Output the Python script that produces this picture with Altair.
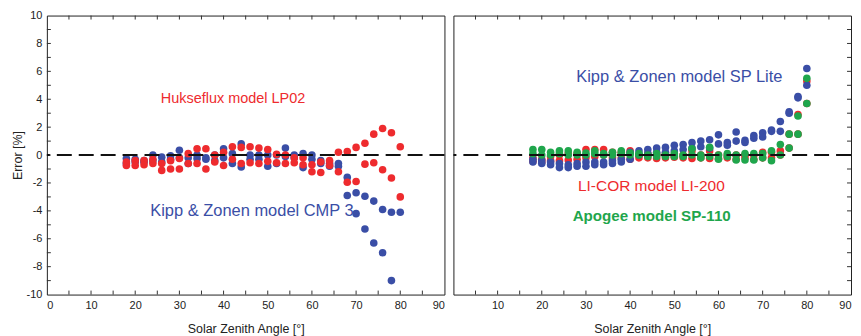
import altair as alt
import pandas as pd

angles = [18, 20, 22, 24, 26, 28, 30, 32, 34, 36, 38, 40, 42, 44, 46, 48,
          50, 52, 54, 56, 58, 60, 62, 64, 66, 68, 70, 72, 74, 76, 78, 80]

# Left panel
cmp3_a = [-0.25, -0.3, -0.4, 0.0, -0.15, -0.05, 0.35, -0.6, -0.25, -0.2, 0.0, 0.45, 0.1, 0.8, 0.0, 0.0,
          -0.8, -0.6, 0.5, 0.0, 0.1, 0.0, -0.4, -0.8, -0.8, -1.6, -2.7, -2.95, -3.3, -3.9, -4.1, -4.1]
cmp3_b = [-0.6, -0.5, -0.5, -0.4, -0.5, -0.3, -0.2, -0.2, 0.0, -0.3, -0.4, -0.2, -0.6, -0.85, -0.3, -0.3,
          0.0, 0.0, -0.1, -0.2, -0.9, -0.3, -0.6, -0.6, -0.6, -2.9, -4.2, -5.3, -6.3, -7.0, -9.0, None]
lp02_a = [-0.75, -0.4, -0.4, -0.6, -0.6, -0.4, -0.25, 0.1, 0.45, 0.45, 0.0, -0.75, 0.6, 0.55, 0.6, 0.5,
          0.4, 0.05, 0.0, -0.2, -0.2, -0.7, -0.5, -0.4, 0.2, 0.25, 0.55, 0.85, 1.5, 1.9, 1.6, 0.6]
lp02_b = [-0.5, -0.75, -0.7, -0.3, -1.1, -1.0, -1.0, -0.6, -0.6, -1.0, -0.5, 0.2, -0.3, -0.6, -0.55, -0.6,
          -0.45, -0.55, -0.6, -0.55, -0.7, -1.2, -1.25, -0.75, -1.2, -1.95, -1.9, -0.65, -0.55, -1.05, -1.65, -3.0]

# Right panel
splite_a = [-0.3, -0.4, -0.5, -0.6, -0.7, -0.6, -0.5, -0.5, -0.5, -0.4, -0.3, 0.2, 0.3, 0.4, 0.5, 0.55,
            0.7, 0.75, 0.9, 1.0, 1.1, 1.45, 0.9, 1.65, 1.05, 1.4, 1.6, 1.8, 2.4, 3.1, 4.2, 6.2]
splite_b = [-0.5, -0.6, -0.7, -0.9, -0.9, -0.8, -0.8, -0.7, -0.7, -0.6, -0.5, -0.3, 0.0, 0.1, 0.2, 0.2,
            0.3, 0.4, 0.5, 0.6, 0.5, 0.8, 0.7, 1.0, 0.9, 1.2, 1.3, 1.7, 1.7, 3.0, 4.1, 5.0]
li200_a = [-0.45, -0.5, -0.4, -0.4, -0.35, -0.3, 0.4, 0.4, 0.4, 0.2, 0.2, 0.3, -0.2, -0.2, -0.25, -0.2,
           -0.15, -0.2, -0.25, -0.2, -0.25, -0.25, -0.2, -0.3, -0.2, -0.3, -0.2, -0.2, 0.3, 1.5, 2.9, 3.7]
li200_b = [-0.2, -0.3, -0.1, 0.0, 0.1, 0.1, -0.2, -0.1, 0.0, -0.2, -0.2, -0.3, 0.0, 0.1, 0.0, 0.1,
           0.0, 0.0, 0.3, 0.0, 0.3, 0.0, 0.0, 0.0, 0.0, 0.0, 0.2, 0.2, 0.0, 0.5, 1.5, 5.3]
sp110_a = [0.4, 0.4, 0.0, 0.3, 0.3, 0.0, 0.15, 0.3, 0.0, 0.2, 0.3, 0.15, 0.0, 0.0, 0.1, 0.0,
           0.1, 0.0, 0.45, 0.0, 0.55, 0.0, 0.1, 0.0, 0.1, 0.1, 0.1, 0.3, 0.75, 1.5, 2.8, 5.5]
sp110_b = [0.1, 0.0, 0.2, 0.1, 0.0, 0.2, 0.0, 0.1, 0.1, 0.0, 0.1, 0.0, 0.1, -0.1, -0.1, -0.1,
           -0.1, -0.1, 0.0, -0.2, -0.1, -0.3, -0.1, -0.35, -0.35, -0.35, -0.2, -0.4, 0.0, 0.5, 1.5, 3.7]

series_names = ["CMP 3", "LP02", "LI-200", "SP Lite", "SP-110"]
series_colors = ["#3a4ea6", "#ee2b2e", "#ee2b2e", "#3a4ea6", "#1fa64c"]


def to_long(name, a, b):
    rows = []
    for ang, v in zip(angles, a):
        if v is not None:
            rows.append({"angle": ang, "err": v, "series": name})
    for ang, v in zip(angles, b):
        if v is not None:
            rows.append({"angle": ang, "err": v, "series": name})
    return rows


left_df = pd.DataFrame(to_long("CMP 3", cmp3_a, cmp3_b) + to_long("LP02", lp02_a, lp02_b))
left_df["order"] = left_df["series"].map({"CMP 3": 0, "LP02": 1})
right_df = pd.DataFrame(to_long("LI-200", li200_a, li200_b) + to_long("SP Lite", splite_a, splite_b)
                        + to_long("SP-110", sp110_a, sp110_b))
right_df["order"] = right_df["series"].map({"LI-200": 0, "SP Lite": 1, "SP-110": 2})

W = 399
H = 280
FONT = "Liberation Sans Narrow, Liberation Sans, Arial, sans-serif"
TFONT = "Liberation Sans, Arial, sans-serif"

xscale = alt.Scale(domain=[0, 90], nice=False)
yscale = alt.Scale(domain=[-10, 10], nice=False)
color = alt.Color("series:N", scale=alt.Scale(domain=series_names, range=series_colors), legend=None)

xticks_df = pd.DataFrame({"v": list(range(5, 90, 5))})
yticks_df = pd.DataFrame({"v": list(range(-9, 10, 1))})


def tick_layers(side):
    xb = alt.Chart(xticks_df).mark_rule(color="#333", strokeWidth=1).encode(
        x=alt.X("v:Q"), y=alt.value(H), y2=alt.value(H - 4))
    xt = alt.Chart(xticks_df).mark_rule(color="#333", strokeWidth=1).encode(
        x=alt.X("v:Q"), y=alt.value(0), y2=alt.value(4))
    if side == "left":
        yt = alt.Chart(yticks_df).mark_rule(color="#333", strokeWidth=1).encode(
            y=alt.Y("v:Q"), x=alt.value(0), x2=alt.value(4))
    else:
        yt = alt.Chart(yticks_df).mark_rule(color="#333", strokeWidth=1).encode(
            y=alt.Y("v:Q"), x=alt.value(W), x2=alt.value(W - 4))
    return [xb, xt, yt]


def zero_line():
    return alt.Chart(pd.DataFrame({"z": [0]})).mark_rule(
        color="#111", strokeWidth=2, strokeDash=[15, 7]).encode(y=alt.Y("z:Q"))


xtitle = "Solar Zenith Angle [°]"

left_points = alt.Chart(left_df).mark_circle(size=58, opacity=1).encode(
    x=alt.X("angle:Q", scale=xscale,
            axis=alt.Axis(title=xtitle, values=list(range(0, 91, 10)), tickCount=20, ticks=False,
                          domain=False, grid=False, labelExpr="datum.value + ''", labelOverlap=False)),
    y=alt.Y("err:Q", scale=yscale,
            axis=alt.Axis(title="Error [%]", values=list(range(-10, 11, 2)), tickCount=25, ticks=False,
                          domain=False, grid=False, labelExpr="datum.value + ''", labelOverlap=False,
                          labelPadding=5, titlePadding=2)),
    color=color,
    order="order:Q",
)


def label(text, x, y, col, size, weight="normal"):
    return alt.Chart(pd.DataFrame({"t": [text]})).mark_text(
        align="left", baseline="middle", fontSize=size, font=TFONT, color=col, fontWeight=weight
    ).encode(x=alt.datum(x), y=alt.datum(y), text="t:N")


left = alt.layer(
    left_points,
    *tick_layers("left"),
    zero_line(),
    label("Hukseflux model LP02", 25.8, 4.0, "#ee2b2e", 14.5),
    label("Kipp & Zonen model CMP 3", 23.4, -4.0, "#3a4ea6", 16.5),
).properties(width=W, height=H)

right_points = alt.Chart(right_df).mark_circle(size=58, opacity=1).encode(
    x=alt.X("angle:Q", scale=xscale,
            axis=alt.Axis(title=xtitle, values=list(range(10, 91, 10)), tickCount=20, ticks=False,
                          domain=False, grid=False, labelExpr="datum.value + ''", labelOverlap=False)),
    y=alt.Y("err:Q", scale=yscale, axis=None),
    color=color,
    order="order:Q",
)

right = alt.layer(
    right_points,
    *tick_layers("right"),
    zero_line(),
    label("Kipp & Zonen model SP Lite", 27.8, 5.6, "#3a4ea6", 16.5),
    label("LI-COR model LI-200", 28.2, -2.2, "#ee2b2e", 15.5),
    label("Apogee model SP-110", 27.0, -4.35, "#1fa64c", 15.2, "bold"),
).properties(width=W, height=H)

chart = alt.hconcat(left, right, spacing=5).configure_view(
    stroke="#222", strokeWidth=1
).configure_axis(
    labelFont=FONT, titleFont=FONT, labelFontSize=11, titleFontSize=12.5,
    labelColor="#222", titleColor="#222", titleFontWeight="normal", labelPadding=5,
    labelOverlap=False,
).configure_axisX(titlePadding=12).properties(
    padding={"left": 2, "top": 0, "right": 0, "bottom": 0}
)

chart.save("out.html", embed_options={"renderer": "svg", "actions": False})
